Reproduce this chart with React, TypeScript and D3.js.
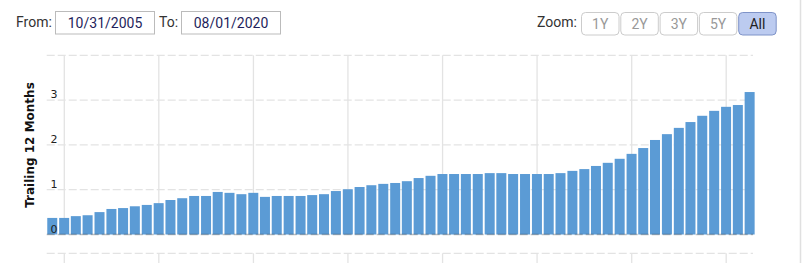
import React from "react";
import * as d3 from "d3";

const values: number[] = [
  0.37, 0.37, 0.41, 0.43, 0.5, 0.57, 0.59, 0.63, 0.66, 0.7,
  0.77, 0.81, 0.86, 0.86, 0.95, 0.93, 0.9, 0.93, 0.84, 0.86,
  0.86, 0.86, 0.88, 0.9, 0.97, 1.01, 1.06, 1.1, 1.13, 1.15,
  1.19, 1.26, 1.31, 1.35, 1.35, 1.35, 1.35, 1.37, 1.37, 1.35,
  1.35, 1.35, 1.35, 1.37, 1.42, 1.46, 1.53, 1.6, 1.69, 1.8,
  1.93, 2.11, 2.24, 2.38, 2.51, 2.65, 2.76, 2.85, 2.89, 3.18,
];
// quarter-end dates, first quarter ending Sep 30 2005
const quarterDates: Date[] = values.map((_, i) =>
  d3.timeDay.offset(d3.timeMonth.offset(new Date(2005, 9, 1), i * 3), -1)
);
const yTicks: number[] = [0, 1, 2, 3, 4];
const yTickLabels: string[] = ["0", "1", "2", "3", ""];
const zoomButtons: string[] = ["1Y", "2Y", "3Y", "5Y", "All"];
const fromDate = "10/31/2005";
const toDate = "08/01/2020";
const yTitle = "Trailing 12 Months";

export default function App() {
  const W = 805, H = 263;
  const plotLeft = 46.7, plotRight = 753;
  const x = d3.scaleTime()
    .domain([new Date(2006, 0, 1), new Date(2020, 0, 1)])
    .range([64.3, 726.2]);
  const y = d3.scaleLinear().domain([0, 4]).range([234.5, 55.3]);
  const barW = 10;
  const yearTicks = x.ticks(d3.timeYear.every(2));
  const font = "Roboto, 'Open Sans', sans-serif";
  const axFont = "'DejaVu Sans', Verdana, sans-serif";
  const btnX0 = 581, btnW = 37.5, btnStep = 39.3;
  return (
    <svg width={W} height={H} style={{ position: "absolute", left: 0, top: 0 }}>
      <rect x={0} y={0} width={W} height={H} fill="#fff" />
      <line x1={800.5} x2={800.5} y1={0} y2={H} stroke="#e0e0e0" strokeWidth={1.5} />
      {/* header */}
      <text x={16} y={27} fontFamily={font} fontSize={14} fill="#333">From:</text>
      <rect x={55.5} y={11.5} width={99} height={22.5} fill="#fff" stroke="#bbb" />
      <text x={105} y={28} textAnchor="middle" fontFamily={font} fontSize={14} fill="#1f1f5c">{fromDate}</text>
      <text x={159} y={27} fontFamily={font} fontSize={14} fill="#333">To:</text>
      <rect x={181.5} y={11.5} width={99} height={22.5} fill="#fff" stroke="#bbb" />
      <text x={231} y={28} textAnchor="middle" fontFamily={font} fontSize={14} fill="#1f1f5c">{toDate}</text>
      <text x={577} y={27} textAnchor="end" fontFamily={font} fontSize={14} fill="#333">Zoom:</text>
      {zoomButtons.map((b, i) => {
        const active = b === "All";
        const bx = btnX0 + i * btnStep;
        return (
          <g key={b}>
            <rect x={bx + 0.5} y={12.5} width={btnW} height={22.5} rx={4}
              fill={active ? "#bccbf0" : "#fff"} stroke={active ? "#7f93c8" : "#ccc"} />
            <text x={bx + 0.5 + btnW / 2} y={28.5} textAnchor="middle" fontFamily={font} fontSize={14}
              fill={active ? "#222" : "#999"}>{b}</text>
          </g>
        );
      })}
      {/* vertical grid lines */}
      {yearTicks.map((t) => (
        <g key={+t}>
          <line x1={x(t)} x2={x(t)} y1={y(4)} y2={y(0)} stroke="#e3e3e3" strokeWidth={1.3} />
          <line x1={x(t)} x2={x(t)} y1={253.3} y2={H} stroke="#e3e3e3" strokeWidth={1.3} />
        </g>
      ))}
      {/* horizontal grid */}
      {yTicks.filter((v) => v > 0).map((v) => (
        <line key={v} x1={plotLeft} x2={plotRight} y1={y(v)} y2={y(v)} stroke="#e3e3e3"
          strokeWidth={1.3} strokeDasharray="8,3" />
      ))}
      <line x1={plotLeft} x2={plotRight} y1={253.3} y2={253.3} stroke="#e3e3e3" strokeWidth={1.3} strokeDasharray="8,3" />
      {/* bars */}
      {values.map((v, i) => (
        <rect key={i} x={x(quarterDates[i]) - barW / 2} y={y(v)} width={barW} height={y(0) - y(v)} fill="#5b9bd5" />
      ))}
      {/* zero line */}
      <line x1={plotLeft} x2={plotRight} y1={y(0)} y2={y(0)} stroke="rgba(0,0,0,0.25)"
        strokeWidth={1.3} strokeDasharray="8,3" />
      {/* y labels */}
      {yTicks.map((v, i) => (
        <text key={v} x={50.5} y={y(v) - 2} fontFamily={axFont} fontSize={11} fill="#222">{yTickLabels[i]}</text>
      ))}
      <text transform={`translate(33.5,${145}) rotate(-90)`} textAnchor="middle" fontFamily={axFont}
        fontWeight="bold" fontSize={12} fill="#111">{yTitle}</text>
    </svg>
  );
}
